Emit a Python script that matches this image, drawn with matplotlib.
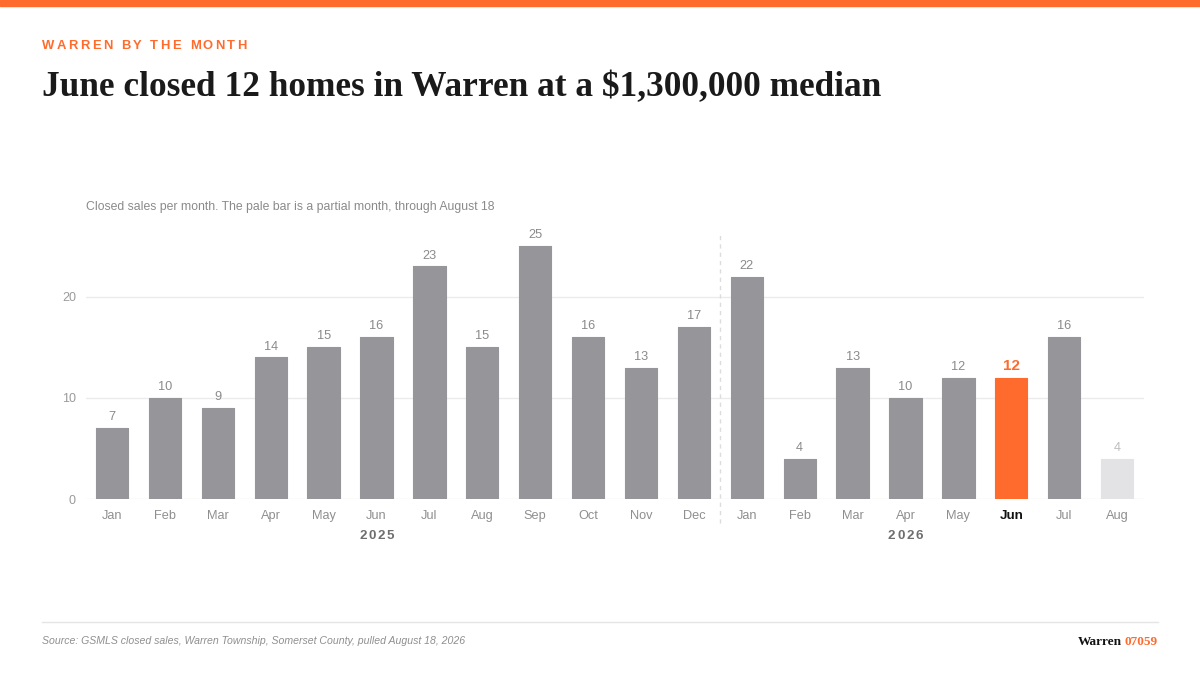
import matplotlib
matplotlib.use("Agg")
import matplotlib.pyplot as plt
from matplotlib.lines import Line2D
from matplotlib.patches import Rectangle

# ---- data ----
months = ["Jan", "Feb", "Mar", "Apr", "May", "Jun", "Jul", "Aug", "Sep", "Oct", "Nov", "Dec",
          "Jan", "Feb", "Mar", "Apr", "May", "Jun", "Jul", "Aug"]
sales = [7, 10, 9, 14, 15, 16, 23, 15, 25, 16, 13, 17,
         22, 4, 13, 10, 12, 12, 16, 4]
years = ["2025", "2026"]
year_label_index = [5, 15]
year_break_after = 11
highlight_index = 17
partial_index = 19
yticks = [0, 10, 20]

kicker = "WARREN BY THE MONTH"
title = "June closed 12 homes in Warren at a $1,300,000 median"
subtitle = "Closed sales per month. The pale bar is a partial month, through August 18"
source = "Source: GSMLS closed sales, Warren Township, Somerset County, pulled August 18, 2026"

ORANGE = "#ff6b2c"
BAR = "#969599"
PALE = "#e3e3e5"
SANS = ["Liberation Sans", "DejaVu Sans"]
SERIF = ["Liberation Serif", "DejaVu Serif"]

W, H = 1200, 675
fig = plt.figure(figsize=(W / 100, H / 100), dpi=100)
fig.patch.set_facecolor("white")
renderer = fig.canvas.get_renderer()

def fx(px):
    return px / W

def fy(py):
    return 1 - py / H

def char_width(ch, **kw):
    if ch == " ":
        a = fig.text(0, 0, "n n", **kw)
        b = fig.text(0, 0, "nn", **kw)
        w = a.get_window_extent(renderer).width - b.get_window_extent(renderer).width
        a.remove(); b.remove()
        return w
    t = fig.text(0, 0, ch, **kw)
    w = t.get_window_extent(renderer).width
    t.remove()
    return w

def fitted_text(x_px, y_px, s, target_w, ha="left", **kw):
    widths = [char_width(c, **kw) for c in s]
    track = (target_w - sum(widths)) / (len(s) - 1)
    total = sum(widths) + track * (len(s) - 1)
    x = x_px if ha == "left" else x_px - total / 2
    for c, w in zip(s, widths):
        if c != " ":
            fig.text(fx(x), fy(y_px), c, va="baseline", ha="left", **kw)
        x += w + track

# top band
fig.patches.append(Rectangle((0, fy(6)), 1, 6 / H, transform=fig.transFigure,
                             color=ORANGE, zorder=10))

fitted_text(42, 49, kicker, 205, fontsize=9.4, fontweight="bold", color=ORANGE, family=SANS)
fig.text(fx(42), fy(96), title, fontsize=25.4, fontweight="bold", family=SERIF,
         color="#1a1a1a", va="baseline", ha="left")

fig.text(fx(86), fy(210), subtitle, fontsize=8.8, family=SANS, color="#8a8a8a",
         va="baseline", ha="left")

# axes
left, right, top, bottom = 85.6, 1143.5, 232, 499
ax = fig.add_axes([fx(left), fy(bottom), fx(right - left), (bottom - top) / H])
ymax = 26.4
ax.set_xlim(-0.5, len(sales) - 0.5)
ax.set_ylim(0, ymax)
for s in ax.spines.values():
    s.set_visible(False)
ax.set_facecolor("none")

for yv in yticks:
    ax.axhline(yv, color="#ebebeb", lw=1.0, zorder=0)
ax.set_yticks(yticks)
ax.set_yticklabels([str(v) for v in yticks], fontsize=9.0, color="#9a9a9a", family=SANS)
ax.tick_params(axis="y", length=0, pad=7)
ax.set_xticks([])

colors = []
for i in range(len(sales)):
    if i == highlight_index:
        colors.append(ORANGE)
    elif i == partial_index:
        colors.append(PALE)
    else:
        colors.append(BAR)
x = list(range(len(sales)))
ax.bar(x, sales, width=0.61, color=colors, edgecolor=colors, linewidth=0.8,
       joinstyle="round", zorder=2)

for i, v in enumerate(sales):
    if i == highlight_index:
        ax.annotate(str(v), (i, v), xytext=(0, 3.5), textcoords="offset points", ha="center",
                    va="bottom", fontsize=11, fontweight="bold", color=ORANGE, family=SANS)
    else:
        c = "#bdbdbd" if i == partial_index else "#8a8a8a"
        ax.annotate(str(v), (i, v), xytext=(0, 3.5), textcoords="offset points", ha="center",
                    va="bottom", fontsize=9.2, color=c, family=SANS)

# month labels
for i, m in enumerate(months):
    if i == highlight_index:
        ax.text(i, -1.1, m, ha="center", va="top", fontsize=9.6, fontweight="bold",
                color="#111111", family=SANS)
    else:
        ax.text(i, -1.1, m, ha="center", va="top", fontsize=9.2, color="#8f8f8f", family=SANS)

# year labels (letter-spaced)
for yl, xi in zip(years, year_label_index):
    px = ax.transData.transform((xi, 0))[0]
    fitted_text(px, 539, yl, 35, ha="center", fontsize=9.6, fontweight="bold",
                color="#6e6e6e", family=SANS)

# year divider
ax.add_line(Line2D([year_break_after + 0.5] * 2, [-2.4, ymax], color="#dcdcdc", lw=1,
                   ls=(0, (3, 3)), clip_on=False, zorder=1))

# footer
fig.add_artist(Line2D([fx(42), fx(1158)], [fy(622), fy(622)], transform=fig.transFigure,
                      color="#e5e5e5", lw=1))
fig.text(fx(42), fy(644), source, fontsize=7.6, style="italic", family=SANS,
         color="#8f8f8f", va="baseline", ha="left")
t2 = fig.text(fx(1158), fy(645), "07059", fontsize=9.5, fontweight="bold", family=SERIF,
              color=ORANGE, va="baseline", ha="right")
w2 = t2.get_window_extent(renderer).width
fig.text(fx(1158 - w2 - 3), fy(645), "Warren", fontsize=9.5, fontweight="bold", family=SERIF,
         color="#111111", va="baseline", ha="right")

fig.savefig("out.png", dpi=100, facecolor="white")
